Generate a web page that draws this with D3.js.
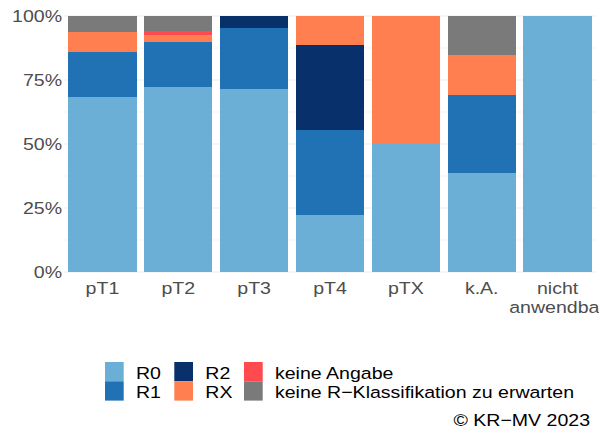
<!DOCTYPE html>
<html>
<head>
<meta charset="utf-8">
<script src="https://cdn.jsdelivr.net/npm/d3@7"></script>
<style>
  body { margin: 0; background: #fff; }
  svg { display: block; font-family: "Liberation Sans", Arial, sans-serif; }
</style>
</head>
<body>
<div id="grafico"></div>
<script>
// dados (Anteile in %)
const kategorien = ["pT1", "pT2", "pT3", "pT4", "pTX", "k.A.", "nicht anwendbar"];
const r0          = [68.4, 72.3, 71.5, 22.2, 50.0, 38.5, 100];
const r1          = [17.5, 17.5, 23.8, 33.3,  0.0, 30.8,   0];
const r2          = [ 0.0,  0.0,  4.7, 33.3,  0.0,  0.0,   0];
const rx          = [ 7.8,  2.8,  0.0, 11.2, 50.0, 15.4,   0];
const keineAngabe = [ 0.0,  1.7,  0.0,  0.0,  0.0,  0.0,   0];
const keineRKlass = [ 6.3,  5.7,  0.0,  0.0,  0.0, 15.3,   0];

const klassen = ["R0", "R1", "R2", "RX", "keine Angabe", "keine R\u2212Klassifikation zu erwarten"];
const farben  = ["#6BAED6", "#2171B5", "#08306B", "#FF7F50", "#FF4A50", "#7A7A7A"];
const yTicks  = [0, 25, 50, 75, 100];
const yMinor  = [12.5, 37.5, 62.5, 87.5];
const quelle  = "\u00A9 KR\u2212MV 2023";

//tamanhos
const largura = 599;
const altura = 429;
const esq = 64.5, dir = 595.5, topo = 16, base = 272;
const estica = 1.15; // a fonte do original e mais larga que a Arial

const valores = [r0, r1, r2, rx, keineAngabe, keineRKlass];
const tabela = kategorien.map((k, i) => {
    const linha = { kategorie: k };
    klassen.forEach((c, j) => linha[c] = valores[j][i]);
    return linha;
});
const series = d3.stack().keys(klassen)(tabela);

const x = d3.scaleBand()
    .domain(kategorien)
    .range([esq, dir])
    .paddingInner(0.1)
    .paddingOuter(0.05);

const y = d3.scaleLinear()
    .domain([0, 100])
    .range([base, topo]);

const svg = d3.select("#grafico")
    .append("svg")
    .attr("width", largura)
    .attr("height", altura);

function texto(pai, px, py, str, ancora) {
    return pai.append("text")
        .attr("transform", `translate(${px},${py}) scale(${estica},1)`)
        .attr("text-anchor", ancora)
        .text(str);
}

//grade
svg.append("g")
    .selectAll("line")
    .data(yMinor)
    .join("line")
    .attr("x1", esq).attr("x2", dir)
    .attr("y1", d => y(d)).attr("y2", d => y(d))
    .attr("stroke", "#EBEBEB")
    .attr("stroke-width", 0.6);

svg.append("g")
    .selectAll("line")
    .data(yTicks)
    .join("line")
    .attr("x1", esq).attr("x2", dir)
    .attr("y1", d => y(d)).attr("y2", d => y(d))
    .attr("stroke", "#EBEBEB")
    .attr("stroke-width", 1.1);

//barras empilhadas
svg.append("g")
    .selectAll("g")
    .data(series)
    .join("g")
    .attr("fill", (d, i) => farben[i])
    .selectAll("rect")
    .data(d => d)
    .join("rect")
    .attr("x", d => x(d.data.kategorie))
    .attr("width", x.bandwidth())
    .attr("y", d => y(d[1]))
    .attr("height", d => y(d[0]) - y(d[1]))
    .attr("shape-rendering", "crispEdges");

//eixo y
const eixoY = svg.append("g")
    .attr("transform", `translate(${esq},0)`)
    .call(d3.axisLeft(y).tickValues(yTicks).tickFormat(d => d + "%").tickSize(0).tickPadding(2.5));
eixoY.select(".domain").remove();
eixoY.selectAll("text")
    .attr("x", null).attr("dy", null)
    .attr("transform", `translate(-2.5,5.6) scale(${estica},1)`)
    .attr("fill", "#4D4D4D")
    .style("font-size", "17px")
    .style("font-family", "'Liberation Sans', Arial, sans-serif");

//eixo x
const eixoX = svg.append("g")
    .attr("transform", `translate(0,${base})`)
    .call(d3.axisBottom(x).tickSize(0));
eixoX.select(".domain").remove();
eixoX.selectAll("text")
    .attr("y", null).attr("dy", null)
    .attr("transform", `translate(0,21.5) scale(${estica},1)`)
    .attr("fill", "#4D4D4D")
    .style("font-size", "17px")
    .style("font-family", "'Liberation Sans', Arial, sans-serif")
    .each(function(d) {
        const t = d3.select(this).text(null);
        d.split(" ").forEach((parte, i) => {
            t.append("tspan").attr("x", 0).attr("y", i * 19.5).text(parte);
        });
    });

//legenda
const legenda = svg.append("g").style("font-size", "17px").attr("fill", "#000");
const colX = [105, 174.3, 244];
const linY = [362, 381.3];
klassen.forEach((c, i) => {
    const lx = colX[Math.floor(i / 2)];
    const ly = linY[i % 2];
    legenda.append("rect")
        .attr("x", lx).attr("y", ly)
        .attr("width", 18.7).attr("height", 19.3)
        .attr("fill", farben[i]);
    texto(legenda, lx + 31, ly + 16.5, c, "start");
});

//fonte
const rodape = svg.append("g").style("font-size", "17px").attr("fill", "#000");
texto(rodape, 590, 425.5, quelle, "end");
</script>
</body>
</html>
